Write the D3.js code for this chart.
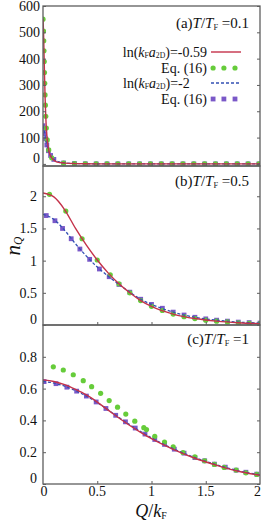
<!DOCTYPE html>
<html lang="en">
<head>
<meta charset="UTF-8">
<title>n_Q</title>
<style>
    *{margin:0;padding:0;}
    body{background:#fff;}
    text{font-family:'Liberation Serif','Times New Roman',Times,serif;fill:#111;}
</style>
</head>
<body>
<svg id="chart" width="263" height="523" font-family="Liberation Serif, serif"></svg>
<script src="https://cdn.jsdelivr.net/npm/d3@7/dist/d3.min.js"></script>
<script>
    /* x grid shared by the solid / dashed curves in (b) and (c) */
    var lineQ = [0, 0.1, 0.2, 0.3, 0.4, 0.5, 0.6, 0.7, 0.8, 0.9, 1.0, 1.2, 1.4, 1.6, 1.8, 2.0];

    /* (a) T/TF = 0.1 */
    var aRedQ = [0, 0.005, 0.01, 0.015, 0.02, 0.025, 0.03, 0.035, 0.04, 0.05, 0.06, 0.07, 0.08, 0.1, 0.12, 0.15, 0.2, 0.3, 0.4, 0.6, 1.0, 2.0];
    var aRedN = [550, 500, 410, 320, 245, 185, 140, 110, 88, 58, 40, 30, 23, 14, 9, 5.5, 3, 1.2, 0.5, 0.1, 0, 0];
    var aBlueQ = [0, 0.01, 0.02, 0.03, 0.04, 0.05, 0.06, 0.08, 0.1, 0.12, 0.15, 0.2, 0.3, 0.4, 0.6, 1.0, 2.0];
    var aBlueN = [145, 128, 105, 82, 64, 50, 39, 25, 17, 12, 7.5, 4, 1.5, 0.6, 0.1, 0, 0];
    var aDotQ = [0, 0.0045, 0.0067, 0.0089, 0.0112, 0.0135, 0.0159, 0.0189, 0.022, 0.0255, 0.0305, 0.039, 0.053, 0.08,
        0.19, 0.29, 0.39, 0.49, 0.59, 0.69, 0.79, 0.89, 0.99, 1.09, 1.19, 1.29, 1.39, 1.49, 1.59, 1.69, 1.79, 1.89, 1.99];
    var aDotN = [550, 505, 468, 430, 389, 347, 306, 262, 223, 181, 136, 91, 53, 23,
        3.3, 1.2, 0.5, 0.2, 0.1, 0, 0, 0, 0, 0, 0, 0, 0, 0, 0, 0, 0, 0, 0];
    var aSqQ = [0, 0.008, 0.016, 0.025, 0.035, 0.05, 0.07, 0.1,
        0.19, 0.29, 0.39, 0.49, 0.59, 0.69, 0.79, 0.89, 0.99, 1.09, 1.19, 1.29, 1.39, 1.49, 1.59, 1.69, 1.79, 1.89, 1.99];
    var aSqN = [145, 133, 115, 95, 72, 50, 32, 17,
        3.5, 1.3, 0.5, 0.2, 0.1, 0, 0, 0, 0, 0, 0, 0, 0, 0, 0, 0, 0, 0, 0];

    /* (b) T/TF = 0.5 */
    var bRedN = [2.05, 1.99, 1.79, 1.50, 1.24, 1.01, 0.81, 0.64, 0.50, 0.38, 0.29, 0.17, 0.10, 0.06, 0.035, 0.02];
    var bBlueN = [1.72, 1.64, 1.47, 1.26, 1.07, 0.90, 0.76, 0.63, 0.51, 0.40, 0.32, 0.20, 0.12, 0.075, 0.045, 0.03];
    var bDotQ = [0.06, 0.21, 0.36, 0.5, 0.62, 0.7, 0.8, 0.9, 1.0, 1.1, 1.2, 1.3, 1.4, 1.5, 1.6, 1.7, 1.8, 1.9, 2.0];
    var bDotN = [2.03, 1.77, 1.34, 1.01, 0.78, 0.64, 0.50, 0.38, 0.29, 0.225, 0.17, 0.13, 0.10, 0.075, 0.06, 0.047, 0.035, 0.027, 0.02];
    var bSqQ = [0.03, 0.11, 0.18, 0.26, 0.34, 0.43, 0.52, 0.61, 0.7, 0.8, 0.9, 1.0, 1.1, 1.2, 1.3, 1.4, 1.5, 1.6, 1.7, 1.8, 1.9, 2.0];
    var bSqN = [1.70, 1.62, 1.50, 1.34, 1.18, 1.02, 0.87, 0.75, 0.63, 0.51, 0.40, 0.32, 0.26, 0.20, 0.155, 0.12, 0.095, 0.075, 0.06, 0.045, 0.037, 0.03];

    /* (c) T/TF = 1 */
    var cRedN = [0.655, 0.645, 0.625, 0.595, 0.56, 0.515, 0.465, 0.415, 0.368, 0.325, 0.285, 0.218, 0.162, 0.118, 0.08, 0.055];
    var cBlueN = [0.645, 0.635, 0.615, 0.587, 0.553, 0.512, 0.466, 0.418, 0.373, 0.33, 0.29, 0.222, 0.166, 0.121, 0.083, 0.058];
    var cDotQ = [0.095, 0.187, 0.279, 0.371, 0.448, 0.531, 0.61, 0.687, 0.763, 0.846, 0.929, 0.954, 1.03, 1.12, 1.2, 1.29, 1.40, 1.49, 1.58, 1.67, 1.78, 1.87, 1.97];
    var cDotN = [0.737, 0.717, 0.687, 0.65, 0.612, 0.57, 0.525, 0.483, 0.44, 0.395, 0.354, 0.342, 0.30, 0.264, 0.233, 0.198, 0.171, 0.146, 0.123, 0.104, 0.0875, 0.07, 0.06];
    var cSqQ = [0.01, 0.12, 0.22, 0.31, 0.40, 0.49, 0.58, 0.67, 0.76, 0.85, 0.94, 1.03, 1.12, 1.21, 1.30, 1.40, 1.49, 1.58, 1.68, 1.78, 1.87, 1.97];
    var cSqN = [0.644, 0.631, 0.609, 0.584, 0.553, 0.516, 0.475, 0.432, 0.391, 0.352, 0.314, 0.28, 0.249, 0.219, 0.194, 0.166, 0.146, 0.125, 0.106, 0.087, 0.074, 0.062];

    /* tick labels */
    var aTicks = [0, 100, 200, 300, 400, 500, 600];
    var bTicks = [0, 0.5, 1, 1.5, 2];
    var cTicks = [0, 0.2, 0.4, 0.6, 0.8];
    var xTicks = [0, 0.5, 1, 1.5, 2];

    var RED = "#c4324a", GREEN = "#66cc3a", BLUE = "#3350b4", PURPLE = "#7a58c8", FRAME = "#5e5e5e";
    var FONT = "'Liberation Serif', 'Times New Roman', serif";

    var svg = d3.select("#chart");
    var left = 43, right = 260;
    var x = d3.scaleLinear().domain([0, 2]).range([left, right]);

    function zip(qs, ns) {
        return qs.map(function (q, i) { return [q, ns[i]]; });
    }

    /* text with italic / subscript pieces */
    function richText(g, px, py, size, anchor, parts) {
        var t = g.append("text").attr("x", px).attr("y", py)
            .attr("font-family", FONT)
            .attr("font-size", size).attr("text-anchor", anchor);
        parts.forEach(function (p) {
            var s = t.append("tspan").text(p.t);
            if (p.i) s.attr("font-style", "italic");
            if (p.sub) s.attr("font-size", size * 0.55).attr("dy", 1.5);
            if (p.up) s.attr("dy", -1.5);
        });
        return t;
    }

    var panels = [
        {id: "a", top: 6, bottom: 166, dom: [-8, 600], ticks: aTicks, labX: 40,
            red: zip(aRedQ, aRedN), blue: zip(aBlueQ, aBlueN), dots: zip(aDotQ, aDotN), sqs: zip(aSqQ, aSqN),
            title: "0.1", titleY: 28},
        {id: "b", top: 166, bottom: 325, dom: [0, 2.47], ticks: bTicks, labX: 37,
            red: zip(lineQ, bRedN), blue: zip(lineQ, bBlueN), dots: zip(bDotQ, bDotN), sqs: zip(bSqQ, bSqN),
            title: "0.5", titleY: 186},
        {id: "c", top: 325, bottom: 484, dom: [0, 1.0], ticks: cTicks, labX: 37,
            red: zip(lineQ, cRedN), blue: zip(lineQ, cBlueN), dots: zip(cDotQ, cDotN), sqs: zip(cSqQ, cSqN),
            title: "1", titleY: 344}
    ];

    panels.forEach(function (p) {
        var y = d3.scaleLinear().domain(p.dom).range([p.bottom, p.top]);
        var g = svg.append("g").attr("id", "panel" + p.id);

        g.append("clipPath").attr("id", "clip" + p.id)
            .append("rect").attr("x", left).attr("y", p.top)
            .attr("width", right - left).attr("height", p.bottom - p.top);

        var plot = g.append("g").attr("clip-path", "url(#clip" + p.id + ")");
        var line = d3.line()
            .x(function (d) { return x(d[0]); })
            .y(function (d) { return y(d[1]); })
            .curve(d3.curveMonotoneX);

        /* Eq. (16) markers */
        plot.selectAll(".sq").data(p.sqs).enter().append("rect")
            .attr("class", "sq")
            .attr("x", function (d) { return x(d[0]) - 2.4; })
            .attr("y", function (d) { return y(d[1]) - 2.4; })
            .attr("width", 4.8).attr("height", 4.8)
            .attr("fill", PURPLE);
        plot.selectAll(".dot").data(p.dots).enter().append("circle")
            .attr("class", "dot")
            .attr("cx", function (d) { return x(d[0]); })
            .attr("cy", function (d) { return y(d[1]); })
            .attr("r", 2.6)
            .attr("fill", GREEN);

        plot.append("path").datum(p.blue)
            .attr("d", line).attr("fill", "none")
            .attr("stroke", BLUE).attr("stroke-width", 1.3)
            .attr("stroke-dasharray", "3,2");
        plot.append("path").datum(p.red)
            .attr("d", line).attr("fill", "none")
            .attr("stroke", RED).attr("stroke-width", 1.4);

        /* y axis left and right, ticks inward */
        var yl = g.append("g").attr("transform", "translate(" + left + ",0)")
            .call(d3.axisRight(y).tickValues(p.ticks).tickSize(3).tickFormat(""));
        var yr = g.append("g").attr("transform", "translate(" + right + ",0)")
            .call(d3.axisLeft(y).tickValues(p.ticks).tickSize(3).tickFormat(""));
        var xb = g.append("g").attr("transform", "translate(0," + p.bottom + ")")
            .call(d3.axisTop(x).tickValues([0.5, 1, 1.5]).tickSize(3).tickFormat(""));
        [yl, yr, xb].forEach(function (ax) {
            ax.select(".domain").remove();
            ax.selectAll("line").attr("stroke", FRAME).attr("stroke-width", 1);
        });

        /* tick labels, the zero label sits a bit higher */
        g.selectAll(".ylab").data(p.ticks).enter().append("text")
            .attr("class", "ylab")
            .attr("x", p.labX)
            .attr("y", function (d) { return y(d) + (d === 0 ? -1 : 5); })
            .attr("text-anchor", "end")
            .attr("font-family", FONT)
            .attr("font-size", 14)
            .text(function (d) { return d3.format("")(d); });

        /* frame */
        g.append("rect").attr("x", left).attr("y", p.top)
            .attr("width", right - left).attr("height", p.bottom - p.top)
            .attr("fill", "none").attr("stroke", FRAME).attr("stroke-width", 1.3);

        /* panel title */
        richText(g, 249, p.titleY, 15, "end", [
            {t: "(" + p.id + ")"}, {t: "T", i: true}, {t: "/"}, {t: "T", i: true},
            {t: "F", sub: true}, {t: " =" + p.title, up: true}
        ]);
    });

    /* legend in panel (a) */
    var leg = svg.append("g").attr("id", "legend");
    var legRows = [
        {y: 52, kind: "red", label: [{t: "ln("}, {t: "k", i: true}, {t: "F", sub: true}, {t: "a", i: true, up: true}, {t: "2D", sub: true}, {t: ")=-0.59", up: true}]},
        {y: 68, kind: "dot", label: [{t: "Eq. (16)"}]},
        {y: 83, kind: "blue", label: [{t: "ln("}, {t: "k", i: true}, {t: "F", sub: true}, {t: "a", i: true, up: true}, {t: "2D", sub: true}, {t: ")=-2", up: true}]},
        {y: 99, kind: "sq", label: [{t: "Eq. (16)"}]}
    ];
    var legX = d3.scaleLinear().domain([0, 1]).range([211, 241]);
    legRows.forEach(function (r) {
        if (r.kind === "blue") {
            richText(leg, 123, r.y + 4.5, 14, "start", r.label);
        } else {
            richText(leg, 207, r.y + 4.5, 14, "end", r.label);
        }
        if (r.kind === "red" || r.kind === "blue") {
            leg.append("line").attr("x1", legX(0)).attr("x2", legX(1))
                .attr("y1", r.y).attr("y2", r.y)
                .attr("stroke", r.kind === "red" ? RED : BLUE)
                .attr("stroke-width", r.kind === "red" ? 1.4 : 1.3)
                .attr("stroke-dasharray", r.kind === "blue" ? "3,2" : null);
        } else {
            [0.07, 0.43, 0.8].forEach(function (f) {
                if (r.kind === "dot") {
                    leg.append("circle").attr("cx", legX(f)).attr("cy", r.y).attr("r", 2.6).attr("fill", GREEN);
                } else {
                    leg.append("rect").attr("x", legX(f) - 2.4).attr("y", r.y - 2.4)
                        .attr("width", 4.8).attr("height", 4.8).attr("fill", PURPLE);
                }
            });
        }
    });

    /* x tick labels under (c) */
    svg.selectAll(".xlab").data(xTicks).enter().append("text")
        .attr("class", "xlab")
        .attr("x", function (d) { return d === 2 ? x(d) + 1 : x(d) + (d === 0 ? 1 : 0); })
        .attr("y", 496)
        .attr("text-anchor", function (d) { return d === 2 ? "end" : "middle"; })
        .attr("font-family", FONT)
        .attr("font-size", 14)
        .text(function (d) { return d3.format("")(d); });

    /* axis titles */
    richText(svg, 151, 517, 18, "middle", [{t: "Q", i: true}, {t: "/"}, {t: "k", i: true}, {t: "F", sub: true}]);
    var yt = svg.append("g").attr("transform", "translate(20,246) rotate(-90)");
    richText(yt, 0, 0, 21, "middle", [{t: "n", i: true}, {t: "Q", i: true, sub: true}]);
</script>
</body>
</html>
